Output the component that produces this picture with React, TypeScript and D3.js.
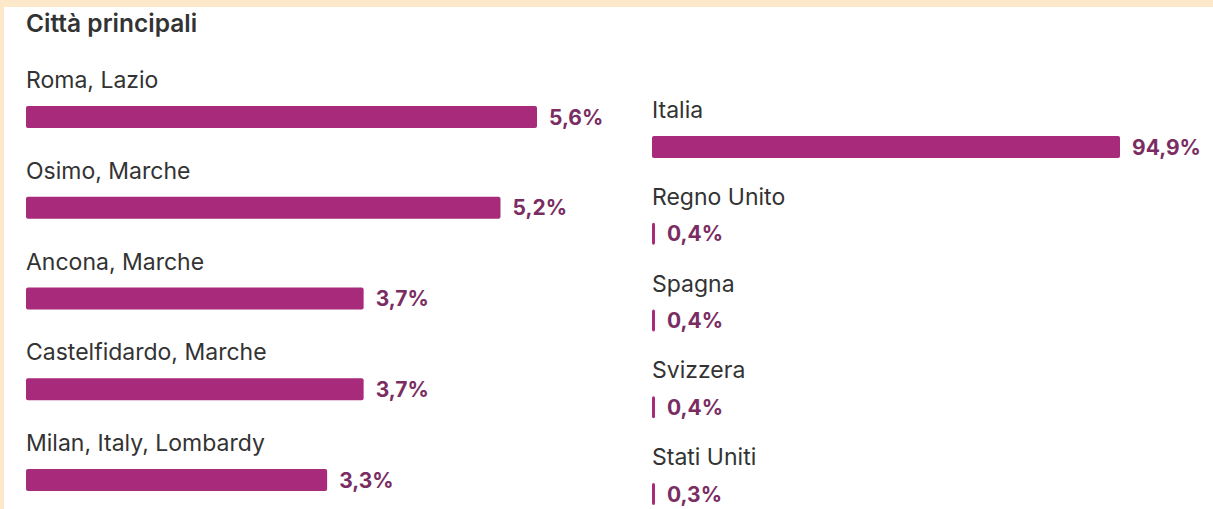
import React, { useEffect, useRef } from "react";
import * as d3 from "d3";

const title = "Città principali";
const cities = ["Roma, Lazio", "Osimo, Marche", "Ancona, Marche", "Castelfidardo, Marche", "Milan, Italy, Lombardy"];
const cityValues = [5.6, 5.2, 3.7, 3.7, 3.3];
const countries = ["Italia", "Regno Unito", "Spagna", "Svizzera", "Stati Uniti"];
const countryValues = [94.9, 0.4, 0.4, 0.4, 0.3];

const size = { width: 1213, height: 509 };
const barColor = "#a82a7b";
const valueColor = "#7a2d62";
const textColor = "#333333";
const font = "Inter, 'Liberation Sans', Arial, sans-serif";

const fmt = (v: number) => v.toFixed(1).replace(".", ",") + "%";

const App = () => {
  const ref = useRef<SVGGElement>(null);

  useEffect(() => {
    const g = d3.select(ref.current);
    g.selectAll("*").remove();

    // frame
    g.append("rect").attr("width", size.width).attr("height", size.height).attr("fill", "#fde8c9");
    g.append("rect").attr("x", 4).attr("y", 7).attr("width", size.width - 4).attr("height", size.height - 7).attr("fill", "#ffffff");

    g.append("text")
      .attr("x", 26)
      .attr("y", 32)
      .attr("font-family", font)
      .attr("font-weight", 600)
      .attr("font-size", 24.5)
      .attr("fill", textColor)
      .text(title);

    const panel = (
      labels: string[],
      values: number[],
      x0: number,
      x1: number,
      maxV: number,
      top: number,
      step: number
    ) => {
      const x = d3.scaleLinear().domain([0, maxV]).range([x0, x1]);
      const y = d3
        .scaleBand<string>()
        .domain(labels)
        .range([top, top + step * labels.length])
        .paddingInner(0);
      const barH = 22;
      const rows = g
        .append("g")
        .selectAll("g.row")
        .data(labels.map((l, i) => ({ label: l, value: values[i] })))
        .enter()
        .append("g")
        .attr("class", "row");

      rows
        .append("text")
        .attr("x", x0)
        .attr("y", d => (y(d.label) as number) - 18)
        .attr("font-family", font)
        .attr("font-size", 23)
        .attr("fill", textColor)
        .text(d => d.label);

      rows
        .append("rect")
        .attr("x", x0)
        .attr("y", d => y(d.label) as number)
        .attr("width", d => Math.max(x(d.value) - x0, 3))
        .attr("height", barH)
        .attr("rx", 2)
        .attr("fill", barColor);

      rows
        .append("text")
        .attr("x", d => x0 + Math.max(x(d.value) - x0, 3) + 12)
        .attr("y", d => (y(d.label) as number) + barH / 2)
        .attr("dy", "0.36em")
        .attr("font-family", font)
        .attr("font-weight", "bold")
        .attr("font-size", 21)
        .attr("fill", valueColor)
        .text(d => fmt(d.value));
    };

    panel(cities, cityValues, 26, 537, 5.6, 106, 90.75);
    panel(countries, countryValues, 652, 1120, 94.9, 136, 86.75);
  }, []);

  return (
    <svg
      width={size.width}
      height={size.height}
      style={{ position: "absolute", top: 0, left: 0, display: "block" }}
    >
      <g ref={ref} />
    </svg>
  );
};

export default App;
